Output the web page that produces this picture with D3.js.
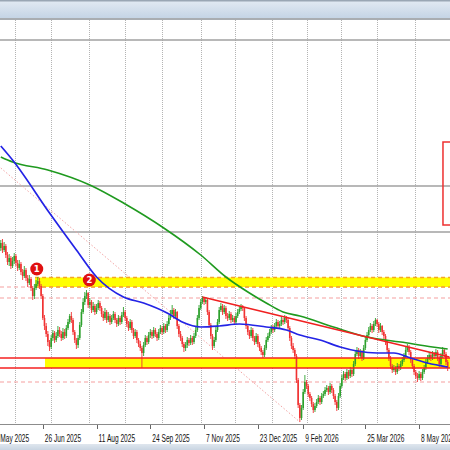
<!DOCTYPE html>
<html><head><meta charset="utf-8">
<script src="https://cdn.jsdelivr.net/npm/d3@7"></script>
<style>html,body{margin:0;padding:0;background:#fff;overflow:hidden}svg{display:block}</style>
</head><body><svg id="c" width="450" height="450"></svg>
<script>
// ---------- data ----------
const startDate = "2025-05-22";
const holidays = ["2025-12-25", "2026-01-01"];
const tickLabels = ["13 May 2025","26 Jun 2025","11 Aug 2025","24 Sep 2025","7 Nov 2025","23 Dec 2025","9 Feb 2026","25 Mar 2026","8 May 2026"];
const tickDates = ["2025-05-13","2025-06-26","2025-08-11","2025-09-24","2025-11-07","2025-12-23","2026-02-02","2026-03-25","2026-05-08"];
const firstOpen = 165.2;
const closes = [
165.7,165.0,165.4,164.5,163.8,164.2,163.4,163.9,164.4,163.7,
163.2,163.6,162.8,162.4,163.0,162.2,161.7,162.1,161.2,160.4,
161.2,161.6,161.9,161.4,160.4,158.2,157.4,156.6,155.8,155.3,
156.2,156.7,156.0,156.4,157.0,156.6,156.2,156.8,156.4,157.2,
157.8,158.4,158.0,156.8,156.0,155.5,156.2,157.5,158.8,159.8,
160.4,160.7,159.5,159.8,159.0,159.4,158.8,159.2,159.7,159.2,
158.6,158.2,158.8,158.0,158.4,157.8,158.2,158.6,158.0,157.6,
158.2,157.8,158.5,158.8,158.2,157.6,157.2,157.8,157.0,156.4,
156.8,156.0,155.6,155.2,154.7,155.5,156.2,155.8,156.5,156.8,
156.4,157.0,156.6,156.2,156.8,157.2,156.8,157.4,157.0,157.6,
158.2,158.6,159.0,158.4,158.8,157.4,156.6,156.2,155.6,155.2,
155.5,156.0,155.7,156.2,155.8,156.4,157.0,158.2,159.2,159.8,
160.2,159.8,160.0,158.8,157.5,156.4,155.4,156.0,157.0,157.8,
159.0,159.4,158.8,159.2,158.4,158.2,158.6,158.0,158.2,157.8,
158.4,158.8,159.1,159.4,159.2,158.2,157.4,156.8,156.4,157.0,
156.2,155.8,156.4,155.6,155.2,154.8,154.5,155.2,156.0,156.4,
156.8,157.2,157.0,157.4,157.8,157.4,157.6,158.0,157.8,158.2,
158.0,157.2,156.2,155.4,155.0,154.4,152.0,149.5,148.2,149.2,
150.8,151.8,151.4,150.6,150.2,149.6,149.0,149.4,149.8,150.2,
149.8,150.4,150.6,151.0,151.2,150.8,151.4,151.0,150.4,149.8,
149.2,150.4,151.4,152.2,152.6,152.2,152.8,152.4,153.0,152.6,
153.6,154.6,155.0,154.4,154.8,154.2,155.2,156.0,156.5,157.0,
157.4,157.0,157.6,158.0,157.6,157.0,157.4,156.8,156.4,155.8,
155.0,154.2,153.4,153.0,153.2,152.8,153.4,153.2,153.6,154.0,
154.4,155.0,155.3,154.8,154.0,153.4,152.8,152.4,152.2,152.6,
152.2,152.8,153.2,153.8,154.2,154.5,154.2,154.6,154.4,154.8,
154.2,153.6,154.4,155.0,154.6,153.8,153.2];
const highs = [
166.0,166.1,165.8,165.6,164.8,164.6,164.4,164.3,164.7,164.6,
164.0,164.0,163.8,163.1,163.4,163.2,162.5,162.5,162.3,161.4,
161.6,162.0,162.3,162.2,161.6,160.6,158.5,157.7,156.9,156.0,
156.5,157.0,156.9,156.8,157.4,157.3,156.9,157.2,157.1,157.5,
158.1,158.6,158.8,158.2,157.0,156.2,156.5,157.8,159.1,160.2,
160.8,161.0,160.8,160.2,160.0,159.8,159.6,159.6,160.0,159.9,
159.4,158.9,159.2,159.0,158.8,158.6,158.5,158.9,158.8,158.2,
158.5,158.4,158.8,159.3,159.0,158.4,157.9,158.1,158.0,157.2,
157.1,157.0,156.2,155.9,155.4,155.8,156.5,156.4,156.8,157.1,
157.0,157.3,157.2,156.8,157.1,157.5,157.4,157.7,157.6,157.9,
158.5,159.0,159.5,159.2,159.1,158.9,157.6,156.9,156.4,155.8,
155.8,156.3,156.2,156.5,156.4,156.7,157.3,158.5,159.5,160.1,
160.4,160.3,160.3,160.1,159.0,157.7,156.6,156.3,157.3,158.1,
159.3,159.7,159.6,159.5,159.4,158.7,158.9,158.8,158.5,158.4,
158.7,159.1,159.4,159.6,159.5,159.3,158.4,157.6,157.0,157.3,
157.2,156.4,156.7,156.6,155.8,155.4,155.0,155.5,156.3,156.7,
157.1,157.5,157.5,157.7,158.1,158.0,157.9,158.3,158.2,158.5,
158.4,158.2,157.4,156.4,155.7,155.2,154.6,152.2,149.7,149.5,
151.1,152.5,152.0,151.6,150.8,150.4,149.8,149.7,150.1,150.5,
150.4,150.7,150.9,151.3,151.5,151.4,151.7,151.6,151.2,150.6,
150.0,150.7,151.7,152.5,152.9,152.8,153.1,153.0,153.3,153.2,
153.9,154.9,155.3,155.2,155.1,155.0,155.5,156.3,156.8,157.3,
157.7,157.6,157.9,158.2,158.1,157.8,157.7,157.5,157.0,156.6,
156.0,155.2,154.4,153.6,153.5,153.4,153.7,153.6,153.9,154.3,
154.7,155.3,155.6,155.5,155.0,154.2,153.6,153.0,152.7,152.9,
152.8,153.1,153.5,154.1,154.5,154.8,154.7,154.9,154.8,155.1,
155.0,154.4,154.7,155.3,155.2,154.8,154.0];
const lows = [
164.9,164.7,164.8,164.2,163.5,163.4,163.1,163.2,163.6,163.4,
162.9,163.0,162.5,162.0,162.2,161.9,161.3,161.5,160.9,160.0,
160.1,161.0,161.4,161.1,160.1,158.0,157.0,156.3,155.4,154.9,
155.1,155.9,155.7,155.8,156.2,156.3,155.9,156.0,156.1,156.2,
157.0,157.6,157.7,156.5,155.7,155.1,155.2,156.0,157.3,158.6,
159.5,160.1,159.2,159.2,158.7,158.8,158.5,158.6,159.0,158.9,
158.3,157.9,158.0,157.7,157.8,157.5,157.6,158.0,157.7,157.3,
157.4,157.5,157.6,158.3,157.9,157.3,156.9,157.0,156.7,156.1,
156.2,155.7,155.3,154.9,153.2,154.4,155.3,155.5,155.6,156.2,
156.1,156.2,156.3,155.9,156.0,156.6,156.5,156.6,156.7,156.8,
157.4,158.0,158.4,158.1,158.2,157.1,156.3,155.9,155.3,154.8,
154.9,155.2,155.4,155.5,155.5,155.6,156.2,156.8,158.0,159.0,
159.6,159.5,159.6,158.5,157.2,156.1,155.0,155.2,155.8,156.8,
157.6,158.8,158.5,158.6,158.1,157.9,158.0,157.7,157.8,157.5,
157.6,158.2,158.6,158.9,158.9,157.9,157.1,156.5,156.1,156.2,
155.9,155.5,155.6,155.3,154.9,154.5,154.2,154.3,155.0,155.8,
156.2,156.6,156.7,156.8,157.2,157.1,157.2,157.4,157.5,157.6,
157.7,156.9,155.9,155.1,154.7,154.1,151.7,149.2,147.8,148.0,
149.0,150.6,151.1,150.3,149.9,149.3,148.7,148.8,149.2,149.6,
149.5,149.6,150.2,150.4,150.8,150.5,150.6,150.7,150.1,149.5,
148.9,149.0,150.2,151.2,152.0,151.9,152.0,152.1,152.2,152.3,
152.4,153.4,154.4,154.1,154.2,153.9,154.0,155.0,155.8,156.3,
156.8,156.7,156.8,157.4,157.3,156.7,156.8,156.5,156.1,155.5,
154.7,153.9,153.1,152.7,152.8,152.5,152.6,152.9,153.0,153.4,
153.8,154.2,154.8,154.5,153.7,153.1,152.5,152.1,151.8,152.0,
151.9,152.0,152.6,153.0,153.6,154.0,153.9,154.0,154.1,154.2,
153.9,153.3,153.4,154.2,154.3,153.5,152.9];
// moving averages: [bar index, value]
const maFast = [[0,175.4],[7,174.0],[29,168.7],[45,165.0],[57,162.3],[73,160.3],[85,159.7],[99,158.7],[108,157.8],[119,157.3],[130,157.4],[142,157.6],[158,157.3],[170,157.0],[178,156.5],[190,156.0],[202,155.3],[212,154.9],[224,154.7],[234,154.7],[244,154.2],[254,153.7],[266,153.3]];
const maSlow = [[0,174.3],[7,173.8],[28,173.0],[53,171.5],[73,169.7],[97,167.2],[119,164.5],[134,162.3],[148,160.7],[158,159.7],[168,158.8],[178,158.4],[198,157.3],[218,156.3],[238,155.8],[257,155.3],[266,155.1]];
const trendLine = [[120,160.3],[267,154.3]];
const diagLine = [[0,173.2],[178,147.8]];
const grayLevels = [186.0, 171.4, 166.8];
const pinkLevels = [161.3, 160.2, 151.8];
const zone1 = [20.4, 162.25, 161.3];   // start bar, top, bottom
const zone2 = [26.3, 154.2, 153.2];
const boxRect = [263.2, 175.8, 167.5];
const markers = [["1", 21.4, 163.1], ["2", 52.7, 162.0]];
const gridBars = [8.5, 29.8, 52.6, 74.1, 96, 118.9, 139.2, 161.2, 182.1, 202.3, 224.1, 246.4];

// ---------- scales ----------
const svg = d3.select("#c");
const N = closes.length;
const x = d3.scaleLinear().domain([0, N - 1]).range([0.8, 0.8 + (N - 1) * 1.68]);
const y = d3.scaleLinear().domain([190, 145]).range([0, 450]);
const parse = d3.utcParse("%Y-%m-%d");
const hol = new Set(holidays);
function tradeIndex(ds) {
  const a = parse(startDate), b = parse(ds);
  const lo = a < b ? a : b, hi = a < b ? b : a;
  const n = d3.utcDay.range(lo, hi).filter(d => d.getUTCDay() % 6 !== 0 && !hol.has(d3.utcFormat("%Y-%m-%d")(d))).length;
  return a <= b ? n : -n;
}
const candles = closes.map((c, i) => ({ i, o: i ? closes[i - 1] : firstOpen, h: highs[i], l: lows[i], c }));

// ---------- background ----------
const defs = svg.append("defs");
const g1 = defs.append("linearGradient").attr("id", "tb").attr("x1", 0).attr("x2", 0).attr("y1", 0).attr("y2", 1);
g1.append("stop").attr("offset", "0%").attr("stop-color", "#e3eaf3");
g1.append("stop").attr("offset", "100%").attr("stop-color", "#c3d3e5");
svg.append("rect").attr("width", 450).attr("height", 450).attr("fill", "#fff");
svg.append("rect").attr("x", 0).attr("y", 0).attr("width", 450).attr("height", 19).attr("fill", "url(#tb)");
svg.append("rect").attr("x", 0).attr("y", 0).attr("width", 450).attr("height", 1.5).attr("fill", "#9aa6b4");
svg.append("rect").attr("x", 0).attr("y", 18).attr("width", 450).attr("height", 2).attr("fill", "#a9adb2");

// grid
svg.append("g").selectAll("line").data(gridBars).join("line")
  .attr("x1", d => Math.round(x(d)) + 0.5).attr("x2", d => Math.round(x(d)) + 0.5)
  .attr("y1", 20).attr("y2", 424)
  .attr("stroke", "#b4b4b4").attr("stroke-dasharray", "1,1").attr("stroke-width", 1);

// gray horizontal levels
svg.append("g").selectAll("line").data(grayLevels).join("line")
  .attr("x1", 0).attr("x2", 450).attr("y1", d => y(d)).attr("y2", d => y(d))
  .attr("stroke", "#a0a0a0").attr("stroke-width", 1.3);

// diagonal dotted
const lineGen = d3.line().x(d => x(d[0])).y(d => y(d[1]));
svg.append("path").datum(diagLine).attr("d", lineGen).attr("fill", "none")
  .attr("stroke", "#f3a3a3").attr("stroke-width", 1).attr("stroke-dasharray", "1.5,2");

// zone fills
svg.append("rect").attr("x", x(zone1[0])).attr("width", 450 - x(zone1[0]))
  .attr("y", y(zone1[1])).attr("height", y(zone1[2]) - y(zone1[1])).attr("fill", "#ffff00");
svg.append("rect").attr("x", x(zone2[0])).attr("width", 450 - x(zone2[0]))
  .attr("y", y(zone2[1])).attr("height", y(zone2[2]) - y(zone2[1])).attr("fill", "#ffff00");

// pink dashed levels
svg.append("g").selectAll("line").data(pinkLevels).join("line")
  .attr("x1", 0).attr("x2", 450).attr("y1", d => y(d)).attr("y2", d => y(d))
  .attr("stroke", "#f6a0a0").attr("stroke-width", 1.2).attr("stroke-dasharray", "4,3");
// zone1 orange dashed borders
svg.append("g").selectAll("line").data([zone1[1], zone1[2]]).join("line")
  .attr("x1", x(zone1[0])).attr("x2", 450).attr("y1", d => y(d)).attr("y2", d => y(d))
  .attr("stroke", "#f5a623").attr("stroke-width", 1.3).attr("stroke-dasharray", "4,3");

// candles
const cg = svg.append("g");
cg.selectAll("line").data(candles).join("line")
  .attr("x1", d => x(d.i)).attr("x2", d => x(d.i))
  .attr("y1", d => y(d.h)).attr("y2", d => y(d.l))
  .attr("stroke", d => d.c >= d.o ? "#2ca02c" : "#f03232").attr("stroke-width", 0.9);
cg.selectAll("rect").data(candles).join("rect")
  .attr("x", d => x(d.i) - 0.8).attr("width", 1.6)
  .attr("y", d => y(Math.max(d.o, d.c))).attr("height", d => Math.max(0.8, Math.abs(y(d.o) - y(d.c))))
  .attr("fill", d => d.c >= d.o ? "#2ca02c" : "#f03232");

// zone2 red lines
svg.append("g").selectAll("line").data([zone2[1], zone2[2]]).join("line")
  .attr("x1", 0).attr("x2", 450).attr("y1", d => y(d)).attr("y2", d => y(d))
  .attr("stroke", "#f52020").attr("stroke-width", 1.6);

// moving averages
const curve = d3.line().x(d => x(d[0])).y(d => y(d[1])).curve(d3.curveMonotoneX);
svg.append("path").datum(maSlow).attr("d", curve).attr("fill", "none").attr("stroke", "#1f9a1f").attr("stroke-width", 1.6);
svg.append("path").datum(maFast).attr("d", curve).attr("fill", "none").attr("stroke", "#2323e6").attr("stroke-width", 1.7);

// trend line
svg.append("path").datum(trendLine).attr("d", lineGen).attr("fill", "none").attr("stroke", "#f02020").attr("stroke-width", 1.6);

// box
svg.append("rect").attr("x", x(boxRect[0])).attr("y", y(boxRect[1]))
  .attr("width", 30).attr("height", y(boxRect[2]) - y(boxRect[1]))
  .attr("fill", "none").attr("stroke", "#ee3030").attr("stroke-width", 1.5);

// markers
const mg = svg.append("g").selectAll("g").data(markers).join("g")
  .attr("transform", d => `translate(${x(d[1])},${y(d[2])})`);
mg.append("circle").attr("r", 6.5).attr("fill", "#e01010");
mg.append("text").text(d => d[0]).attr("text-anchor", "middle").attr("dy", "0.36em")
  .attr("font-family", "DejaVu Sans, sans-serif").attr("font-size", 8.5).attr("font-weight", "bold").attr("fill", "#fff");

// bottom axis
svg.append("rect").attr("x", 0).attr("y", 424).attr("width", 450).attr("height", 26).attr("fill", "#fff");
svg.append("line").attr("x1", 0).attr("x2", 450).attr("y1", 424.5).attr("y2", 424.5).attr("stroke", "#8c8c8c").attr("stroke-width", 1.2);
const ticks = tickLabels.map((t, k) => [t, tradeIndex(tickDates[k])]);
const tg = svg.append("g").selectAll("g").data(ticks).join("g")
  .attr("transform", d => `translate(${x(d[1]) + 2},442) scale(0.66,1)`);
tg.append("text").text(d => d[0]).attr("font-family", "Liberation Sans, Arial, sans-serif").attr("font-size", 10).attr("fill", "#111");
svg.append("g").selectAll("line").data(ticks).join("line")
  .attr("x1", d => Math.round(x(d[1])) + 0.5).attr("x2", d => Math.round(x(d[1])) + 0.5)
  .attr("y1", 425).attr("y2", 429).attr("stroke", "#666");
const g2 = defs.append("linearGradient").attr("id", "bb").attr("x1", 0).attr("x2", 0).attr("y1", 0).attr("y2", 1);
g2.append("stop").attr("offset", "0%").attr("stop-color", "#dfe6ee");
g2.append("stop").attr("offset", "100%").attr("stop-color", "#c9d5e2");
svg.append("rect").attr("x", 0).attr("y", 444).attr("width", 450).attr("height", 6).attr("fill", "url(#bb)");
</script></body></html>
